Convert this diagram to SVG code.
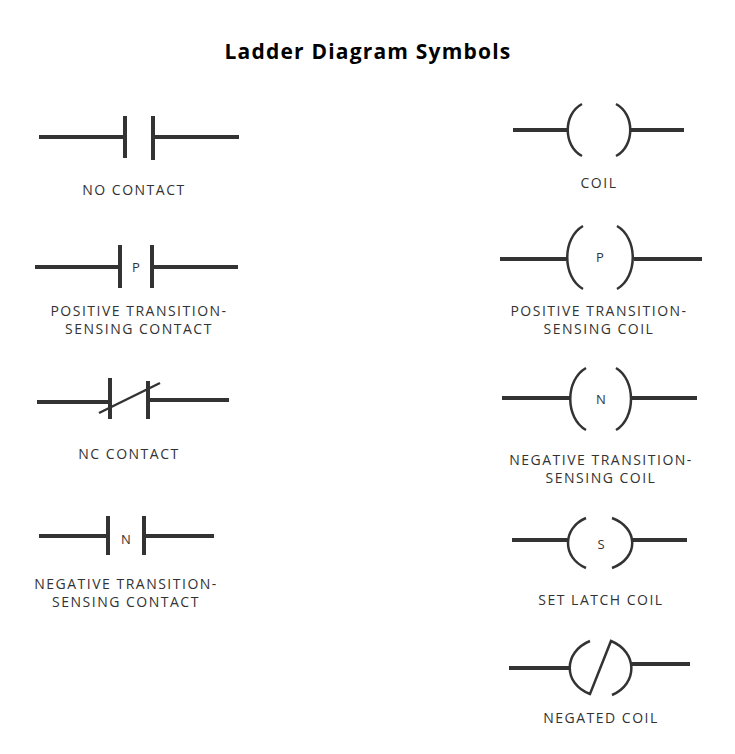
<svg xmlns="http://www.w3.org/2000/svg" width="735" height="754" viewBox="0 0 735 754">
<style>
.w{stroke:#333;stroke-width:4;fill:none}
.a{stroke:#333;stroke-width:2.5;fill:none}
.l{font-family:"Open Sans","DejaVu Sans",sans-serif;font-size:14px;fill:#333;text-anchor:middle;letter-spacing:1.5px}
.s{font-family:"Open Sans","DejaVu Sans",sans-serif;font-size:13px;fill:#333;text-anchor:middle}
</style>
<rect width="735" height="754" fill="#fff"/>
<text x="368" y="59" style="font-family:'Open Sans','DejaVu Sans',sans-serif;font-size:21px;font-weight:bold;text-anchor:middle;letter-spacing:1.2px" fill="#000">Ladder Diagram Symbols</text>
<g id="no-contact">
<path class="w" d="M39 137H125M125 116V158M153 116V160M153 137H239"/>
<text class="l" x="134" y="195">NO CONTACT</text>
</g>
<g id="pos-contact">
<path class="w" d="M35 267H120M120 245V288M152 245V288M152 267H238"/>
<text class="s" x="136" y="272">P</text>
<text class="l" x="139" y="316">POSITIVE TRANSITION-</text>
<text class="l" x="139" y="334">SENSING CONTACT</text>
</g>
<g id="nc-contact">
<path class="w" d="M37 402H110M110 378V419M148 381V419M148 400H229"/>
<path class="a" d="M99 413L160 383"/>
<text class="l" x="129" y="459">NC CONTACT</text>
</g>
<g id="neg-contact">
<path class="w" d="M39 536H108M108 516V555M144 516V555M144 536H214"/>
<text class="s" x="126" y="544">N</text>
<text class="l" x="126" y="589">NEGATIVE TRANSITION-</text>
<text class="l" x="126" y="607">SENSING CONTACT</text>
</g>
<g id="coil">
<path class="w" d="M513 130H568M630 130H684"/>
<path class="a" d="M582 104C563 114 563 146 582 156M616 104C635 114 635 146 616 156"/>
<text class="l" x="599" y="188">COIL</text>
</g>
<g id="pos-coil">
<path class="w" d="M500 259H567M634 259H702"/>
<path class="a" d="M583 226C562 238 562 277 583 289M617 226C638 238 638 277 617 289"/>
<text class="s" x="600" y="262">P</text>
<text class="l" x="599" y="316">POSITIVE TRANSITION-</text>
<text class="l" x="599" y="334">SENSING COIL</text>
</g>
<g id="neg-coil">
<path class="w" d="M502 398H570M631 398H697"/>
<path class="a" d="M586 368C565 380 565 418 586 430M616 368C636 380 636 418 616 430"/>
<text class="s" x="601" y="404">N</text>
<text class="l" x="601" y="465">NEGATIVE TRANSITION-</text>
<text class="l" x="601" y="483">SENSING COIL</text>
</g>
<g id="set-coil">
<path class="w" d="M512 540H568M632 540H687"/>
<path class="a" d="M586 518C562 528 562 558 586 568M612 518C639 528 639 558 612 568"/>
<text class="s" x="601" y="549">S</text>
<text class="l" x="601" y="605">SET LATCH COIL</text>
</g>
<g id="negated-coil">
<path class="w" d="M509 668H570M631 664H690"/>
<path class="a" d="M590 641C563 652 563 684 590 694L611 641C638 652 638 684 612 695"/>
<text class="l" x="601" y="723">NEGATED COIL</text>
</g>
</svg>
